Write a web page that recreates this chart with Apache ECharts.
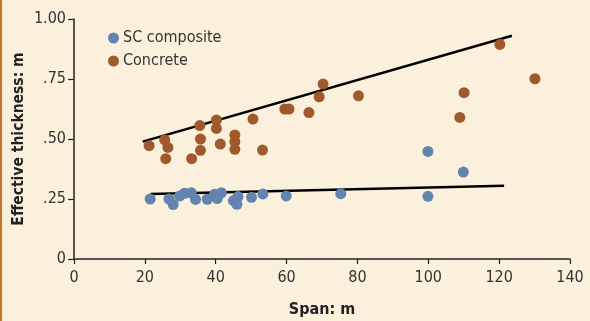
<!DOCTYPE html>
<html><head><meta charset="utf-8">
<script src="https://cdn.jsdelivr.net/npm/echarts@6/dist/echarts.min.js"></script>
<style>html,body{margin:0;padding:0;background:#FAF0DC;}#c{width:590px;height:321px;}</style>
</head><body><div id="c"></div>
<script>
const seriesNames = ['SC composite', 'Concrete'];
const scSpan = [21.5, 26.8, 28.0, 29.8, 31.2, 33.1, 34.3, 37.6, 39.7, 40.4, 41.6, 45.0, 45.8, 46.0, 46.3, 50.1, 53.3, 59.9, 75.3, 99.9, 99.9, 109.9];
const scThick = [0.250, 0.250, 0.227, 0.262, 0.274, 0.276, 0.248, 0.249, 0.270, 0.252, 0.276, 0.243, 0.232, 0.228, 0.260, 0.257, 0.271, 0.263, 0.272, 0.261, 0.448, 0.362];
const concSpan = [21.2, 25.6, 26.5, 25.9, 33.2, 35.5, 35.7, 35.7, 40.2, 40.2, 41.3, 45.4, 45.4, 45.4, 50.5, 53.2, 59.5, 60.7, 66.3, 69.2, 70.3, 80.3, 108.9, 110.1, 120.2, 130.1];
const concThick = [0.472, 0.496, 0.465, 0.418, 0.418, 0.556, 0.500, 0.453, 0.579, 0.544, 0.479, 0.517, 0.489, 0.457, 0.583, 0.454, 0.625, 0.625, 0.610, 0.676, 0.729, 0.680, 0.590, 0.693, 0.894, 0.751];
const scTrendX = [21.6, 121.4];
const scTrendY = [0.271, 0.305];
const concTrendX = [19.4, 123.6];
const concTrendY = [0.489, 0.930];
const xTicks = [0, 20, 40, 60, 80, 100, 120, 140];
const yTickValues = [0, 0.25, 0.5, 0.75, 1.0];
const yTickLabels = ['0', '.25', '.50', '.75', '1.00'];
const xName = 'Span: m';
const yName = 'Effective thickness: m';

const zip = (a, b) => a.map((v, i) => [v, b[i]]);
const FONT = '"DejaVu Sans Condensed", "Liberation Sans Narrow", "Liberation Sans", sans-serif';
const chart = echarts.init(document.getElementById('c'));
chart.setOption({
  backgroundColor: '#FAF0DC',
  animation: false,
  graphic: [{type: 'rect', left: 0, top: 0, shape: {width: 2, height: 321}, style: {fill: '#C8732B'}}],
  grid: {left: 74, right: 20, top: 19, bottom: 62, containLabel: false, outerBoundsMode: 'none'},
  legend: {
    data: seriesNames, orient: 'vertical', left: 103, top: 25, icon: 'circle',
    itemWidth: 11, itemHeight: 11, itemGap: 7,
    textStyle: {fontFamily: FONT, fontSize: 16, color: '#333', padding: [0, 0, 0, -1]}
  },
  xAxis: {
    type: 'value', min: xTicks[0], max: xTicks[xTicks.length - 1], interval: 20,
    name: xName, nameLocation: 'middle', nameGap: 43,
    nameTextStyle: {fontFamily: FONT, fontSize: 16, fontWeight: 'bold', color: '#222'},
    axisLine: {lineStyle: {color: '#222', width: 1.5}},
    axisTick: {show: true, length: 5, lineStyle: {color: '#222', width: 1.2}},
    axisLabel: {fontFamily: FONT, fontSize: 16, color: '#333', margin: 11},
    splitLine: {show: false}
  },
  yAxis: {
    type: 'value', min: 0, max: 1, interval: 0.25,
    name: yName, nameLocation: 'middle', nameGap: 47, nameRotate: 90, nameMoveOverlap: false,
    nameTextStyle: {fontFamily: FONT, fontSize: 15.5, fontWeight: 'bold', color: '#222'},
    axisLine: {show: true, lineStyle: {color: '#222', width: 1.5}},
    axisTick: {show: true, length: 6, lineStyle: {color: '#222', width: 1.2}},
    axisLabel: {fontFamily: FONT, fontSize: 16, color: '#333', margin: 8,
      formatter: v => { const i = yTickValues.findIndex(t => Math.abs(t - v) < 1e-6); return i >= 0 ? yTickLabels[i] : ''; }},
    splitLine: {show: false}
  },
  series: [
    {name: seriesNames[0], type: 'scatter', data: zip(scSpan, scThick), symbolSize: 11,
      itemStyle: {color: '#6383B0', opacity: 1}, z: 3},
    {name: seriesNames[1], type: 'scatter', data: zip(concSpan, concThick), symbolSize: 11,
      itemStyle: {color: '#A0592A', opacity: 1}, z: 3},
    {type: 'line', data: zip(scTrendX, scTrendY), showSymbol: false, symbol: 'none',
      lineStyle: {color: '#000', width: 2.5}, z: 2, silent: true},
    {type: 'line', data: zip(concTrendX, concTrendY), showSymbol: false, symbol: 'none',
      lineStyle: {color: '#000', width: 2.5}, z: 2, silent: true}
  ]
});
</script></body></html>
